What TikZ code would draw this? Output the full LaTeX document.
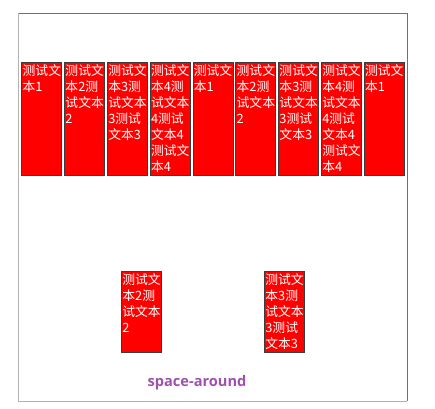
\documentclass[tikz,border=0pt]{standalone}
\usepackage{fontspec}
\newfontfamily\cjk{Noto Sans CJK SC}
\newfontfamily\labelfont{Open Sans}
\usetikzlibrary{positioning}
\definecolor{boxred}{RGB}{255,0,0}
\definecolor{boxedge}{RGB}{60,60,60}
\definecolor{framedark}{RGB}{112,112,112}
\definecolor{framelight}{RGB}{178,178,178}
\definecolor{labelpurple}{RGB}{160,80,175}
\newcommand{\itemtext}[2]{\parbox[c][#1][t]{40pt}{\leftskip=1pt\vspace*{2.5pt}#2}}

\begin{document}
\begin{tikzpicture}[
        x=1pt, y=-1pt,
        node distance=2.1pt,
        flexitem/.style={rectangle, draw=boxedge, line width=0.7pt, fill=boxred, text=white, inner sep=0pt, anchor=north west, font=\cjk\fontsize{12.8}{16}\selectfont},
        framedge/.style={line width=1pt}
    ]
        \useasboundingbox (0,0) rectangle (435,408);
        % container frame
        \draw[framedge, framedark] (18,13) -- (407,13) -- (407,401);
        \draw[framedge, framelight] (18,13) -- (18,401) -- (407,401);

        % first line of items
        \node[flexitem] (item1) at (21.3,61.8) {\itemtext{113pt}{测试文\\本1}};
        \node[flexitem, right=of item1] (item2) {\itemtext{113pt}{测试文\\本2测\\试文本\\2}};
        \node[flexitem, right=of item2] (item3) {\itemtext{113pt}{测试文\\本3测\\试文本\\3测试\\文本3}};
        \node[flexitem, right=of item3] (item4) {\itemtext{113pt}{测试文\\本4测\\试文本\\4测试\\文本4\\测试文\\本4}};
        \node[flexitem, right=of item4] (item5) {\itemtext{113pt}{测试文\\本1}};
        \node[flexitem, right=of item5] (item6) {\itemtext{113pt}{测试文\\本2测\\试文本\\2}};
        \node[flexitem, right=of item6] (item7) {\itemtext{113pt}{测试文\\本3测\\试文本\\3测试\\文本3}};
        \node[flexitem, right=of item7] (item8) {\itemtext{113pt}{测试文\\本4测\\试文本\\4测试\\文本4\\测试文\\本4}};
        \node[flexitem, right=of item8] (item9) {\itemtext{113pt}{测试文\\本1}};

        % second line of items
        \node[flexitem] (lower1) at (121,270.8) {\itemtext{81.5pt}{测试文\\本2测\\试文本\\2}};
        \node[flexitem] (lower2) at (264,270.8) {\itemtext{81.5pt}{测试文\\本3测\\试文本\\3测试\\文本3}};

        \node[text=labelpurple, font=\labelfont\bfseries\fontsize{14.6}{16}\selectfont] (caption) at (197,383) {space-around};
    \end{tikzpicture}
\end{document}
